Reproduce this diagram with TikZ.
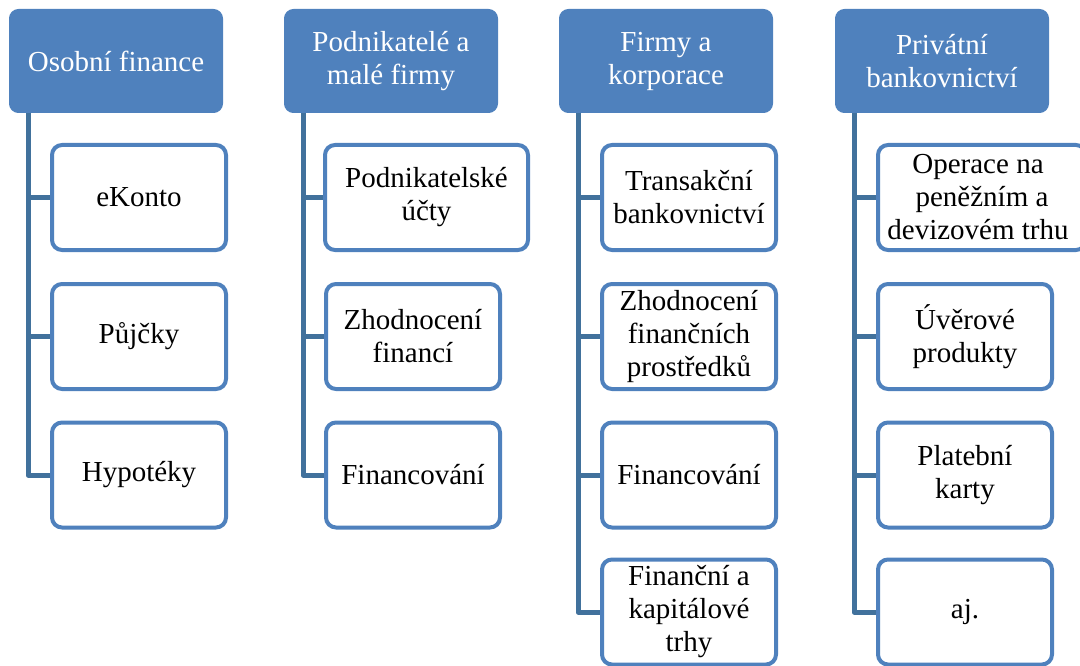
\documentclass[tikz,border=0pt]{standalone}
\usepackage{fontspec}
\setmainfont{Liberation Serif}
\definecolor{hdr}{HTML}{4F81BD}
\definecolor{brd}{HTML}{4F81BD}
\definecolor{lnk}{HTML}{41719C}
\begin{document}
\begin{tikzpicture}[x=1pt,y=-1pt,
  hbox/.style={rectangle, rounded corners=9pt, fill=hdr, draw=hdr, line width=1pt,
    minimum width=213pt, minimum height=103pt, inner sep=2pt, align=center,
    text=white, font=\fontsize{29pt}{33pt}\selectfont},
  cbox/.style={rectangle, rounded corners=10pt, fill=white, draw=brd, line width=4pt,
    minimum width=174pt, minimum height=105pt, inner sep=2pt, align=center,
    text=black, font=\fontsize{29pt}{33pt}\selectfont},
  conn/.style={draw=lnk, line width=5pt, line join=round}]
\useasboundingbox (0,0) rectangle (1080,666);
\clip (0,0) rectangle (1080,666);
% headers
\node[hbox] (h1) at (116,61) {Osobní finance};
\node[hbox] (h2) at (391,61) {Podnikatelé a\\malé firmy};
\node[hbox] (h3) at (666,61) {Firmy a\\korporace};
\node[hbox] (h4) at (942,61) {Privátní\\bankovnictví};
% line coordinates
\coordinate (l1) at (28,113);
\coordinate (l2) at (303,113);
\coordinate (l3) at (578,113);
\coordinate (l4) at (854,113);
% column 1
\node[cbox] (c11) at (139,197.5) {eKonto};
\node[cbox] (c12) at (139,336.5) {Půjčky};
\node[cbox] (c13) at (139,475) {Hypotéky};
% column 2
\node[cbox, minimum width=203pt] (c21) at (426.5,197.5) {Podnikatelské\\účty};
\node[cbox] (c22) at (413,336.5) {Zhodnocení\\financí};
\node[cbox] (c23) at (413,475) {Financování};
% column 3
\node[cbox] (c31) at (689,197.5) {Transakční\\bankovnictví};
\node[cbox] (c32) at (689,336.5) {Zhodnocení\\finančních\\prostředků};
\node[cbox] (c33) at (689,475) {Financování};
\node[cbox] (c34) at (689,612) {Finanční a\\kapitálové\\trhy};
% column 4
\node[cbox, minimum width=208pt] (c41) at (982,197.5) {Operace na\hspace*{8pt}\\peněžním a\hspace*{8pt}\\devizovém trhu\hspace*{8pt}};
\node[cbox] (c42) at (965,336.5) {Úvěrové\\produkty};
\node[cbox] (c43) at (965,475) {Platební\\karty};
\node[cbox] (c44) at (965,612) {aj.};
% connectors
\draw[conn] (l1) |- (c13.west);
\draw[conn] (c11.west -| l1) -- (c11.west);
\draw[conn] (c12.west -| l1) -- (c12.west);
\draw[conn] (l2) |- (c23.west);
\draw[conn] (c21.west -| l2) -- (c21.west);
\draw[conn] (c22.west -| l2) -- (c22.west);
\draw[conn] (l3) |- (c34.west);
\draw[conn] (c31.west -| l3) -- (c31.west);
\draw[conn] (c32.west -| l3) -- (c32.west);
\draw[conn] (c33.west -| l3) -- (c33.west);
\draw[conn] (l4) |- (c44.west);
\draw[conn] (c41.west -| l4) -- (c41.west);
\draw[conn] (c42.west -| l4) -- (c42.west);
\draw[conn] (c43.west -| l4) -- (c43.west);
\end{tikzpicture}
\end{document}
